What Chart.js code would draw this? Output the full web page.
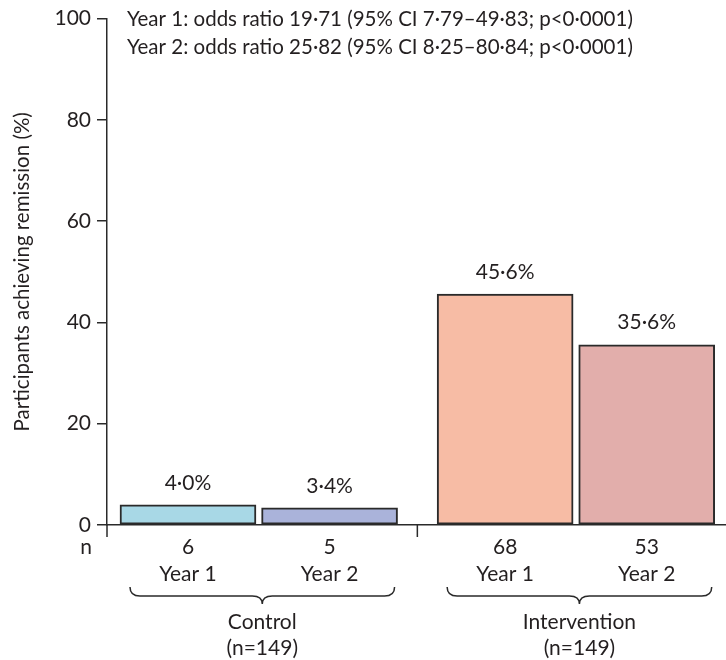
<!DOCTYPE html>
<html>
<head>
<meta charset="utf-8">
<script src="https://cdn.jsdelivr.net/npm/chart.js@4"></script>
<style>
  html, body { margin: 0; padding: 0; background: #ffffff; }
  #wrap { width: 726px; height: 660px; position: relative; }
</style>
</head>
<body>
<div id="wrap"><canvas id="c" width="726" height="660"></canvas></div>
<script>
// ---------------- data ----------------
const groups = ['Control', 'Intervention'];
const groupN = [149, 149];
const years = ['Year 1', 'Year 2'];
const controlValues = [4.0, 3.4];
const interventionValues = [45.6, 35.6];
const controlCounts = [6, 5];
const interventionCounts = [68, 53];
const yTicks = [0, 20, 40, 60, 80, 100];
const yTitle = 'Participants achieving remission (%)';
const annotations = [
  'Year 1: odds ratio 19·71 (95% CI 7·79–49·83; p<0·0001)',
  'Year 2: odds ratio 25·82 (95% CI 8·25–80·84; p<0·0001)'
];

// ---------------- style ----------------
const FONT = 'Lato';
const FS = 21;
const TEXT = '#231f20';
const AXIS = '#2a2a2a';
const controlColors = ['#a8d8e6', '#aab3da'];
const interventionColors = ['#f7bca5', '#e2aeab'];
const GROUP_STEP = 2.24;          // distance between groups (in bar-slot units)
const pos = (g, j) => g * GROUP_STEP + j;

const seriesValues = [controlValues, interventionValues];
const seriesCounts = [controlCounts, interventionCounts];
const seriesColors = [controlColors, interventionColors];

const tickPositions = [];
const tickLabels = [];
groups.forEach((g, gi) => years.forEach((y, j) => {
  tickPositions.push(pos(gi, j));
  tickLabels.push([String(seriesCounts[gi][j]), y]);
}));

const fmt = v => v.toFixed(1).replace('.', '·') + '%';

Chart.defaults.font.family = FONT;
Chart.defaults.color = TEXT;

const overlay = {
  id: 'overlay',
  afterDraw(chart) {
    const ctx = chart.ctx;
    const xs = chart.scales.x;
    const ca = chart.chartArea;
    ctx.save();
    ctx.strokeStyle = AXIS;
    ctx.lineWidth = 1.5;
    // axis extensions below the baseline
    const sepX = xs.getPixelForValue((pos(0, years.length - 1) + pos(1, 0)) / 2);
    [ca.left, sepX].forEach(x => {
      ctx.beginPath();
      ctx.moveTo(x, ca.bottom);
      ctx.lineTo(x, ca.bottom + 12);
      ctx.stroke();
    });
    ctx.fillStyle = TEXT;
    ctx.textBaseline = 'middle';
    ctx.font = FS + 'px ' + FONT;
    ctx.textAlign = 'center';
    // "n" label
    ctx.fillText('n', ca.left - 21, ca.bottom + 22);
    // value labels
    chart.data.datasets.forEach((ds, di) => {
      const meta = chart.getDatasetMeta(di);
      meta.data.forEach((el, i) => {
        ctx.fillText(fmt(ds.data[i].y), el.x, el.y - 22);
      });
    });
    // braces and group labels
    groups.forEach((g, gi) => {
      const meta = chart.getDatasetMeta(gi);
      const first = meta.data[0], last = meta.data[meta.data.length - 1];
      const x1 = first.x - first.width / 2 + 10;
      const x2 = last.x + last.width / 2 - 3;
      const mid = (x1 + x2) / 2;
      const y0 = ca.bottom + 62, y1 = ca.bottom + 71, y2 = ca.bottom + 79, r = 10;
      ctx.beginPath();
      ctx.moveTo(x1, y0);
      ctx.quadraticCurveTo(x1, y1, x1 + r, y1);
      ctx.lineTo(mid - r, y1);
      ctx.quadraticCurveTo(mid, y1, mid, y2);
      ctx.quadraticCurveTo(mid, y1, mid + r, y1);
      ctx.lineTo(x2 - r, y1);
      ctx.quadraticCurveTo(x2, y1, x2, y0);
      ctx.stroke();
      ctx.textAlign = 'center';
      ctx.fillText(g, mid, ca.bottom + 97);
      ctx.fillText('(n=' + groupN[gi] + ')', mid, ca.bottom + 123);
    });
    // annotations
    ctx.textAlign = 'left';
    ctx.font = '20.5px ' + FONT;
    annotations.forEach((t, i) => ctx.fillText(t, ca.left + 20, ca.top + 1 + i * 28));
    ctx.restore();
  }
};

new Chart(document.getElementById('c'), {
  type: 'bar',
  data: {
    datasets: groups.map((g, gi) => ({
      label: g,
      data: seriesValues[gi].map((v, j) => ({ x: pos(gi, j), y: v })),
      backgroundColor: seriesColors[gi],
      borderColor: AXIS,
      borderWidth: 2,
      borderSkipped: false,
      barThickness: 136,
      grouped: false
    }))
  },
  options: {
    responsive: false,
    animation: false,
    devicePixelRatio: 1,
    layout: { padding: { top: 18, left: 0, right: 0, bottom: 0 } },
    plugins: { legend: { display: false }, tooltip: { enabled: false } },
    scales: {
      x: {
        type: 'linear',
        position: 'bottom',
        offset: false,
        min: -0.572,
        max: 3.80,
        afterBuildTicks: s => { s.ticks = tickPositions.map(v => ({ value: v })); },
        afterFit: s => { s.height = 135; },
        grid: { display: false, drawTicks: false, offset: false },
        border: { display: true, color: AXIS, width: 1.5 },
        ticks: {
          autoSkip: false,
          maxRotation: 0,
          padding: 9,
          color: TEXT,
          font: { size: FS, lineHeight: 27 / FS },
          callback: (v, i) => tickLabels[i]
        }
      },
      y: {
        min: 0,
        max: 100,
        afterBuildTicks: s => { s.ticks = yTicks.map(v => ({ value: v })); },
        afterFit: s => { s.width = 107; },
        grid: { display: true, drawOnChartArea: false, drawTicks: true, tickLength: 10, color: AXIS, lineWidth: 1.5 },
        border: { display: true, color: AXIS, width: 1.5 },
        ticks: { padding: 6, color: TEXT, font: { size: FS } },
        title: { display: true, text: yTitle, color: TEXT, font: { size: 20.5 }, padding: { top: 10, bottom: 0 } }
      }
    }
  },
  plugins: [overlay]
});
</script>
</body>
</html>
